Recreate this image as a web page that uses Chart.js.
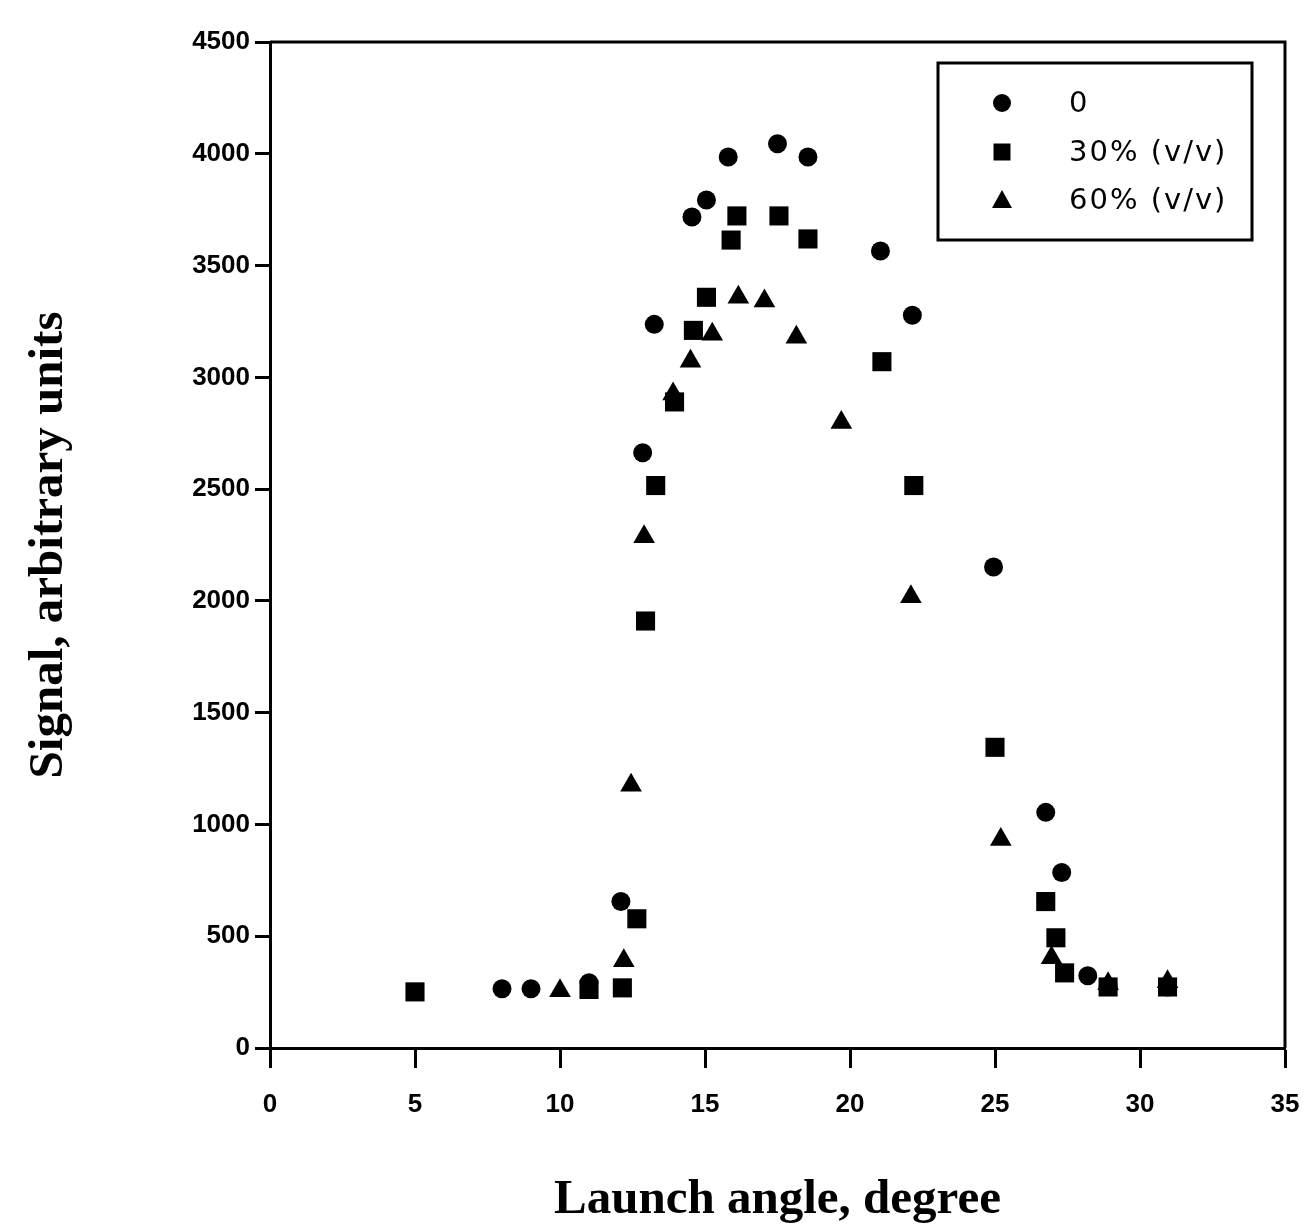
<!DOCTYPE html>
<html>
<head>
<meta charset="utf-8">
<title>Signal vs launch angle</title>
<script src="https://cdn.jsdelivr.net/npm/chart.js@4/dist/chart.umd.min.js"></script>
<style>
  html, body { margin: 0; padding: 0; background: #fff; }
  canvas { display: block; }
</style>
</head>
<body>
<canvas id="chartLaunchAngle" width="1312" height="1225"></canvas>
<script>
// Series
const seriesLabels = ['0', '30% (v/v)', '60% (v/v)'];

const angle0 = [8.0, 9.0, 11.0, 12.1, 12.85, 13.25, 14.55, 15.05, 15.8, 17.5, 18.55, 21.05, 22.15, 24.95, 26.75, 27.3, 28.2, 28.9, 30.95];
const signal0 = [265, 265, 292, 655, 2663, 3237, 3717, 3793, 3986, 4045, 3986, 3565, 3278, 2152, 1054, 785, 323, 275, 273];

const angle30 = [5.0, 11.0, 12.15, 12.65, 12.95, 13.3, 13.95, 14.6, 15.05, 15.9, 16.1, 17.55, 18.55, 21.1, 22.2, 25.0, 26.75, 27.1, 27.4, 28.9, 30.95];
const signal30 = [251, 262, 269, 578, 1910, 2516, 2890, 3210, 3358, 3614, 3722, 3722, 3619, 3070, 2516, 1345, 655, 493, 336, 273, 273];

const angle60 = [10.0, 12.2, 12.45, 12.9, 13.9, 14.5, 15.25, 16.15, 17.05, 18.15, 19.7, 22.1, 25.2, 26.95, 28.9, 30.95];
const signal60 = [256, 390, 1175, 2287, 2926, 3072, 3193, 3358, 3341, 3179, 2798, 2018, 933, 404, 287, 296];

const xTicks = [0, 5, 10, 15, 20, 25, 30, 35];
const yTicks = [0, 500, 1000, 1500, 2000, 2500, 3000, 3500, 4000, 4500];

function toPoints(xs, ys) {
    return xs.map((x, i) => ({ x: x, y: ys[i] }));
}

// top/right frame lines plus the boxed legend inside the plot
const framePlugin = {
    id: 'frameAndLegend',
    afterDraw(chart) {
        const ctx = chart.ctx;
        const area = chart.chartArea;
        ctx.save();
        ctx.strokeStyle = '#000';
        ctx.lineWidth = 3;
        ctx.beginPath();
        ctx.moveTo(area.left, area.top);
        ctx.lineTo(area.right, area.top);
        ctx.lineTo(area.right, area.bottom);
        ctx.stroke();

        // legend box
        const boxLeft = area.right - 347;
        const boxTop = area.top + 21;
        ctx.lineWidth = 3;
        ctx.strokeRect(boxLeft, boxTop, 314, 177);

        const rows = [boxTop + 40, boxTop + 89, boxTop + 137];
        const markX = boxLeft + 64;
        const textX = boxLeft + 131;
        ctx.fillStyle = '#000';
        ctx.font = '29px "DejaVu Sans"';
        ctx.letterSpacing = '2px';
        ctx.textBaseline = 'middle';
        ctx.textAlign = 'left';
        chart.data.datasets.forEach((ds, i) => {
            const y = rows[i];
            ctx.beginPath();
            if (ds.pointStyle === 'circle') {
                ctx.arc(markX, y, 9, 0, Math.PI * 2);
            } else if (ds.pointStyle === 'rect') {
                ctx.rect(markX - 8.5, y - 8.5, 17, 17);
            } else {
                ctx.moveTo(markX, y - 10);
                ctx.lineTo(markX + 10, y + 8);
                ctx.lineTo(markX - 10, y + 8);
                ctx.closePath();
            }
            ctx.fill();
            ctx.fillText(ds.label, textX, y + 1);
        });
        ctx.restore();
    }
};

const tickFont = { family: '"Liberation Sans", Arial, sans-serif', size: 26, weight: 'bold' };
const titleFont = { family: '"Liberation Serif", "Times New Roman", serif', size: 49, weight: 'bold', lineHeight: 1 };

new Chart(document.getElementById('chartLaunchAngle'), {
    type: 'scatter',
    data: {
        datasets: [
            {
                label: seriesLabels[0],
                data: toPoints(angle0, signal0),
                pointStyle: 'circle',
                pointRadius: 9.5,
                backgroundColor: '#000',
                borderColor: '#000',
                borderWidth: 0
            },
            {
                label: seriesLabels[1],
                data: toPoints(angle30, signal30),
                pointStyle: 'rect',
                pointRadius: 13.5,
                backgroundColor: '#000',
                borderColor: '#000',
                borderWidth: 0
            },
            {
                label: seriesLabels[2],
                data: toPoints(angle60, signal60),
                pointStyle: 'triangle',
                pointRadius: 12.5,
                backgroundColor: '#000',
                borderColor: '#000',
                borderWidth: 0
            }
        ]
    },
    options: {
        responsive: false,
        animation: false,
        events: [],
        layout: {
            padding: { top: 42, right: 27, left: 0, bottom: 0 }
        },
        plugins: {
            legend: { display: false },
            tooltip: { enabled: false }
        },
        scales: {
            x: {
                type: 'linear',
                min: xTicks[0],
                max: xTicks[xTicks.length - 1],
                afterBuildTicks: function(scale) {
                    scale.ticks = xTicks.map(v => ({ value: v }));
                },
                afterFit: function(scale) {
                    scale.height = 177;
                    scale.paddingLeft = 0;
                    scale.paddingRight = 0;
                },
                border: { display: true, color: '#000', width: 3 },
                grid: {
                    drawOnChartArea: false,
                    drawTicks: true,
                    tickLength: 20,
                    tickWidth: 3,
                    tickColor: '#000'
                },
                ticks: {
                    color: '#000',
                    font: tickFont,
                    padding: 21,
                    maxRotation: 0,
                    callback: function(value) {
                        return String(value);
                    }
                },
                title: {
                    display: true,
                    text: 'Launch angle, degree',
                    color: '#000',
                    font: titleFont,
                    padding: { top: 0, bottom: 0.5 }
                }
            },
            y: {
                type: 'linear',
                min: yTicks[0],
                max: yTicks[yTicks.length - 1],
                afterBuildTicks: function(scale) {
                    scale.ticks = yTicks.map(v => ({ value: v }));
                },
                afterFit: function(scale) {
                    scale.width = 270;
                    scale.paddingTop = 0;
                    scale.paddingBottom = 0;
                },
                border: { display: true, color: '#000', width: 3 },
                grid: {
                    drawOnChartArea: false,
                    drawTicks: true,
                    tickLength: 15,
                    tickWidth: 3,
                    tickColor: '#000'
                },
                ticks: {
                    color: '#000',
                    font: tickFont,
                    padding: 5,
                    callback: function(value) {
                        return String(value);
                    }
                },
                title: {
                    display: true,
                    text: 'Signal, arbitrary units',
                    color: '#000',
                    font: titleFont,
                    padding: { top: 25, bottom: 0 }
                }
            }
        }
    },
    plugins: [framePlugin]
});
</script>
</body>
</html>
